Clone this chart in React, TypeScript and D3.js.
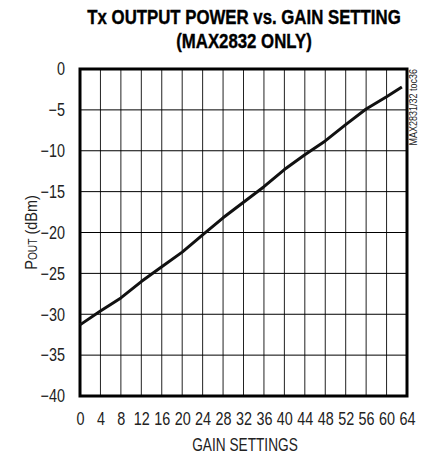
import React, { useRef, useEffect } from 'react';
import * as d3 from 'd3';

// gain setting vs Tx output power (dBm)
const gainSettings = [0, 4, 8, 12, 16, 20, 24, 28, 32, 36, 40, 44, 48, 52, 56, 60, 63];
const poutDbm = [-31.3, -29.6, -28.0, -26.0, -24.2, -22.4, -20.3, -18.2, -16.3, -14.4, -12.3, -10.5, -8.8, -6.8, -4.9, -3.4, -2.2];

const xTicks = d3.range(0, 65, 4);
const yTicks = [0, -5, -10, -15, -20, -25, -30, -35, -40];

const titleLines = ['Tx OUTPUT POWER vs. GAIN SETTING', '(MAX2832 ONLY)'];
const xLabel = 'GAIN SETTINGS';
const tocLabel = 'MAX2831/32 toc36';

// no narrow font installed, so squeeze the text horizontally
const FONT = '"Liberation Sans", Arial, sans-serif';
const SQUEEZE = 0.8;

export default function App() {
    const chartRef = useRef<SVGSVGElement>(null);
    const width = 428, height = 454;

    useEffect(() => {
        const margin = { top: 69, right: 21, bottom: 58, left: 80 };

        const svg = d3.select(chartRef.current);
        svg.selectAll('*').remove();

        const xScale = d3.scaleLinear()
            .domain([0, 64])
            .range([margin.left, width - margin.right]);

        const yScale = d3.scaleLinear()
            .domain([-40, 0])
            .range([height - margin.bottom, margin.top]);

        // grid
        svg.append('g').selectAll('line').data(xTicks.slice(1, -1)).join('line')
            .attr('x1', d => xScale(d)).attr('x2', d => xScale(d))
            .attr('y1', yScale(0)).attr('y2', yScale(-40))
            .attr('stroke', '#222').attr('stroke-width', 1);

        svg.append('g').selectAll('line').data(yTicks.slice(1, -1)).join('line')
            .attr('x1', xScale(0)).attr('x2', xScale(64))
            .attr('y1', d => yScale(d)).attr('y2', d => yScale(d))
            .attr('stroke', '#000').attr('stroke-width', 1);

        // frame
        svg.append('rect')
            .attr('x', xScale(0)).attr('y', yScale(0))
            .attr('width', xScale(64) - xScale(0))
            .attr('height', yScale(-40) - yScale(0))
            .attr('fill', 'none').attr('stroke', '#000').attr('stroke-width', 3);

        // data
        const line = d3.line<number>()
            .x((_, i) => xScale(gainSettings[i]))
            .y(d => yScale(d));
        svg.append('path')
            .datum(poutDbm)
            .attr('d', line)
            .attr('fill', 'none').attr('stroke', '#111').attr('stroke-width', 3)
            .attr('stroke-linejoin', 'round');

        // axes (labels only)
        const xAxis = d3.axisBottom(xScale).tickValues(xTicks).tickSize(0).tickPadding(0);
        const gx = svg.append('g').attr('transform', `translate(0,${yScale(-40) + 29})`).call(xAxis);
        gx.select('.domain').remove();
        gx.selectAll('text')
            .attr('font-family', FONT).attr('font-size', 18).attr('fill', '#222')
            .attr('y', 0).attr('dy', 0)
            .attr('transform', `scale(${SQUEEZE},1)`);

        const yAxis = d3.axisLeft(yScale).tickValues(yTicks).tickSize(0).tickPadding(15 / SQUEEZE);
        const gy = svg.append('g').attr('transform', `translate(${xScale(0)},0)`).call(yAxis);
        gy.select('.domain').remove();
        gy.selectAll('text')
            .attr('font-family', FONT).attr('font-size', 18).attr('fill', '#222')
            .attr('transform', `scale(${SQUEEZE},1)`);

        // titles
        titleLines.forEach((t, i) => {
            svg.append('text')
                .attr('transform', `translate(244,${24 + i * 24}) scale(0.8,1)`)
                .attr('text-anchor', 'middle')
                .attr('font-family', FONT).attr('font-weight', 'bold').attr('font-size', 21)
                .attr('stroke', '#000').attr('stroke-width', 0.4)
                .text(t);
        });

        svg.append('text')
            .attr('transform', `translate(245,451) scale(0.76,1)`)
            .attr('text-anchor', 'middle')
            .attr('font-family', FONT).attr('font-size', 18).attr('fill', '#222')
            .text(xLabel);

        const yl = svg.append('text')
            .attr('transform', `translate(37,${(yScale(0) + yScale(-40)) / 2}) rotate(-90) scale(0.85,1)`)
            .attr('text-anchor', 'middle')
            .attr('font-family', FONT).attr('font-size', 17).attr('fill', '#222');
        yl.append('tspan').text('P');
        yl.append('tspan').attr('font-size', 12).text('OUT');
        yl.append('tspan').text(' (dBm)');

        svg.append('text')
            .attr('transform', `translate(417,${yScale(0)}) rotate(-90) scale(0.9,1)`)
            .attr('text-anchor', 'end')
            .attr('font-family', FONT).attr('font-size', 10).attr('fill', '#222')
            .text(tocLabel);

    }, []);

    return (
        <div style={{ position: 'absolute', left: 0, top: 0 }}>
            <svg width={width + 'px'} height={height + 'px'} ref={chartRef} />
        </div>
    );
}
